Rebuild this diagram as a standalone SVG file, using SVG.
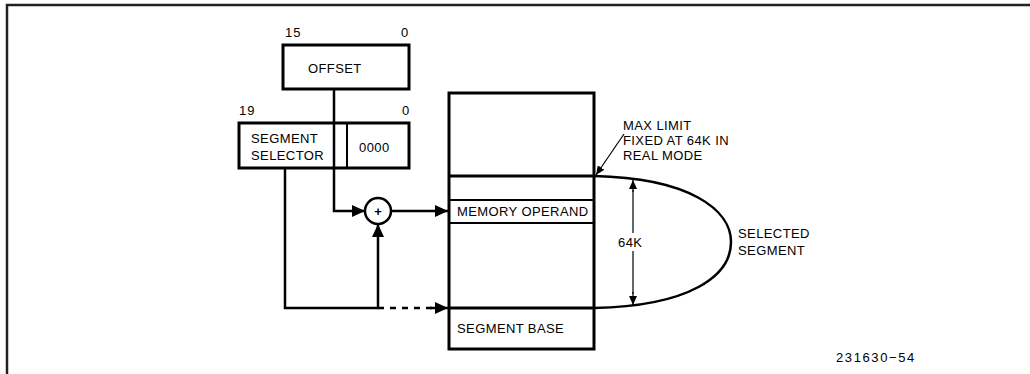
<svg xmlns="http://www.w3.org/2000/svg" width="1030" height="374" viewBox="0 0 1030 374">
<style>
.t{font-family:"Liberation Sans",Arial,sans-serif;font-size:13px;fill:#000;letter-spacing:0.4px}
.s{font-family:"Liberation Sans",Arial,sans-serif;font-size:13px;fill:#000;letter-spacing:1px}
.box{fill:#fff;stroke:#000;stroke-width:3}
.ln{fill:none;stroke:#000;stroke-width:2.5}
.thin{fill:none;stroke:#000;stroke-width:1.2}
</style>
<defs>
<marker id="ah" markerUnits="userSpaceOnUse" markerWidth="14" markerHeight="12" refX="13" refY="6" orient="auto">
<path d="M0,0 L13,6 L0,12 z" fill="#000"/>
</marker>
<marker id="sa" markerUnits="userSpaceOnUse" markerWidth="10" markerHeight="8" refX="9" refY="4" orient="auto">
<path d="M0,0 L9,4 L0,8 z" fill="#000"/>
</marker>
</defs>
<rect x="0" y="0" width="1030" height="374" fill="#fff"/>
<path d="M7,374 V5 H1030" fill="none" stroke="#222" stroke-width="2.5"/>

<g id="offset">
<rect class="box" x="283" y="45" width="126" height="44"/>
<text class="t" x="308" y="73">OFFSET</text>
<text class="s" x="285" y="37">15</text>
<text class="s" x="401" y="37">0</text>
</g>

<g id="segment-selector">
<rect class="box" x="239" y="123" width="170" height="45"/>
<line x1="347" y1="123" x2="347" y2="168" stroke="#000" stroke-width="2"/>
<text class="t" x="251" y="143">SEGMENT</text>
<text class="t" x="251" y="160">SELECTOR</text>
<text class="t" x="359" y="152">0000</text>
<text class="s" x="239" y="115">19</text>
<text class="s" x="402" y="115">0</text>
</g>

<g id="adder">
<circle cx="378" cy="211" r="13" fill="#fff" stroke="#000" stroke-width="2.5"/>
<text x="378" y="215.5" text-anchor="middle" font-family="Liberation Sans,Arial,sans-serif" font-size="13" font-weight="bold">+</text>
</g>

<g id="memory">
<rect class="box" x="449" y="93" width="145" height="256"/>
<line x1="449" y1="176" x2="594" y2="176" stroke="#000" stroke-width="3"/>
<line x1="449" y1="200" x2="594" y2="200" stroke="#000" stroke-width="2"/>
<line x1="449" y1="223" x2="594" y2="223" stroke="#000" stroke-width="2"/>
<line x1="449" y1="308" x2="594" y2="308" stroke="#000" stroke-width="3"/>
<text class="t" x="457" y="216">MEMORY OPERAND</text>
<text class="t" x="457" y="333">SEGMENT BASE</text>
</g>

<g id="selected-segment">
<path class="ln" stroke-width="2" d="M594,176 C690,178 731,210 731,242 C731,276 690,306 594,308"/>
<text class="t" x="738" y="238">SELECTED</text>
<text class="t" x="738" y="255">SEGMENT</text>
</g>

<g id="dimension">
<line class="thin" x1="633" y1="192" x2="633" y2="180" marker-end="url(#sa)"/>
<line class="thin" x1="633" y1="292" x2="633" y2="305" marker-end="url(#sa)"/>
<line class="thin" x1="633" y1="190" x2="633" y2="294"/>
<rect x="614" y="233" width="36" height="18" fill="#fff"/>
<text class="t" x="618" y="247">64K</text>
</g>

<g id="max-limit">
<text class="t" x="623" y="130">MAX LIMIT</text>
<text class="t" x="623" y="145">FIXED AT 64K IN</text>
<text class="t" x="623" y="160">REAL MODE</text>
</g>

<g id="connectors">
<path class="ln" d="M334,89 V211 H365" marker-end="url(#ah)"/>
<line class="ln" x1="391" y1="211" x2="448" y2="211" marker-end="url(#ah)"/>
<path class="ln" d="M285,168 V308 H378 V224" marker-end="url(#ah)"/>
<line class="ln" x1="378" y1="308" x2="436" y2="308" stroke-dasharray="6,6"/>
<line class="ln" x1="430" y1="308" x2="448" y2="308" stroke-width="0" marker-end="url(#ah)"/>
<line class="thin" x1="624" y1="134" x2="596" y2="175" marker-end="url(#sa)"/>
</g>

<text class="s" x="836" y="362" style="letter-spacing:1.6px">231630−54</text>
</svg>
